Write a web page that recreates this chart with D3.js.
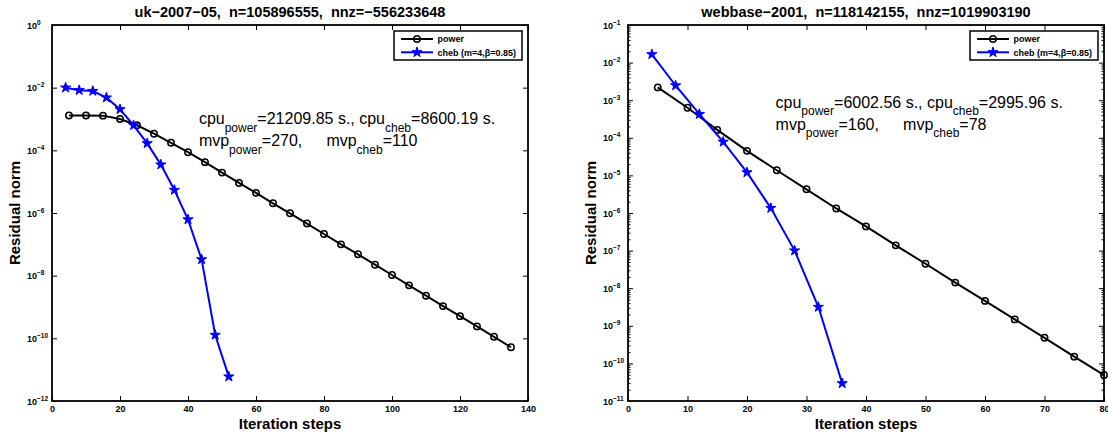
<!DOCTYPE html>
<html>
<head>
<meta charset="utf-8">
<script src="https://cdn.jsdelivr.net/npm/d3@7"></script>
<style>
  body { margin: 0; background: #fff; }
  svg { display: block; font-family: "Liberation Sans", Arial, sans-serif; }
  text { white-space: pre; }
</style>
</head>
<body>
<svg width="1108" height="432"></svg>
<script>
// ---- data ----
const ukPowerIter = [5, 10, 15, 20, 25, 30, 35, 40, 45, 50, 55, 60, 65, 70, 75, 80, 85, 90, 95, 100, 105, 110, 115, 120, 125, 130, 135];
const ukPowerRes = [1.29e-3, 1.29e-3, 1.28e-3, 1.0e-3, 6.3e-4, 3.4e-4, 1.74e-4, 8.7e-5, 4.2e-5, 1.95e-5, 9.1e-6, 4.4e-6, 2.04e-6,
  9.8e-7, 4.6e-7, 2.14e-7, 1.0e-7, 4.8e-8, 2.24e-8, 1.05e-8, 4.9e-9, 2.29e-9, 1.07e-9, 5.1e-10, 2.4e-10, 1.12e-10, 5.2e-11];
const ukChebIter = [4, 8, 12, 16, 20, 24, 28, 32, 36, 40, 44, 48, 52];
const ukChebRes = [1.0e-2, 8.3e-3, 7.8e-3, 4.8e-3, 2.04e-3, 6.3e-4, 1.67e-4, 3.5e-5, 5.4e-6, 6.2e-7, 3.3e-8, 1.28e-10, 6.0e-12];

const webPowerIter = [5, 10, 15, 20, 25, 30, 35, 40, 45, 50, 55, 60, 65, 70, 75, 80];
const webPowerRes = [2.19e-3, 6.3e-4, 1.62e-4, 4.5e-5, 1.37e-5, 4.27e-6, 1.32e-6, 4.4e-7, 1.38e-7, 4.47e-8, 1.41e-8,
  4.6e-9, 1.48e-9, 4.8e-10, 1.51e-10, 4.9e-11];
const webChebIter = [4, 8, 12, 16, 20, 24, 28, 32, 36];
const webChebRes = [1.66e-2, 2.46e-3, 4.27e-4, 7.8e-5, 1.2e-5, 1.35e-6, 1.0e-7, 3.16e-9, 2.95e-11];

const ukXTicks = [0, 20, 40, 60, 80, 100, 120, 140];
const ukYExp = [0, -2, -4, -6, -8, -10, -12];
const webXTicks = [0, 10, 20, 30, 40, 50, 60, 70, 80];
const webYExp = [-1, -2, -3, -4, -5, -6, -7, -8, -9, -10, -11];

const ukCpu = ["21209.85", "8600.19"];
const ukMvp = ["270", "110"];
const webCpu = ["6002.56", "2995.96"];
const webMvp = ["160", "78"];

const seriesNames = ["power", "cheb (m=4,\u03b2=0.85)"];

const svg = d3.select("svg");
const top0 = 25, bottom0 = 401, plotW = 476;
const blue = "#0000ff";

function drawPanel(p) {
  const g = svg.append("g");
  const x = d3.scaleLinear().domain([p.xTicks[0], p.xTicks[p.xTicks.length - 1]]).range([p.left, p.left + plotW]);
  const expMin = d3.min(p.yExp), expMax = d3.max(p.yExp);
  const y = d3.scaleLog().domain([Math.pow(10, expMin), Math.pow(10, expMax)]).range([bottom0, top0]);
  const majors = p.yExp.map(e => Math.pow(10, e));
  const right = p.left + plotW;

  // ticks (inside, mirrored)
  const tickStyle = sel => {
    sel.select(".domain").remove();
    sel.selectAll(".tick line").attr("stroke", "#000").attr("stroke-width", 1);
  };
  g.append("g").attr("transform", `translate(0,${bottom0})`)
    .call(d3.axisBottom(x).tickValues(p.xTicks).tickSizeInner(-5).tickSizeOuter(0).tickPadding(5).tickFormat(d3.format("d")))
    .call(tickStyle)
    .selectAll("text").attr("font-size", 9).attr("font-weight", "bold").attr("fill", "#000")
    .attr("font-family", "Liberation Sans, Arial, sans-serif");
  g.append("g").attr("transform", `translate(0,${top0})`)
    .call(d3.axisTop(x).tickValues(p.xTicks).tickSizeInner(-5).tickSizeOuter(0).tickFormat(() => ""))
    .call(tickStyle);
  g.append("g").attr("transform", `translate(${p.left},0)`)
    .call(d3.axisLeft(y).tickValues(majors).tickSizeInner(-5).tickSizeOuter(0).tickFormat(() => ""))
    .call(tickStyle);
  g.append("g").attr("transform", `translate(${right},0)`)
    .call(d3.axisRight(y).tickValues(majors).tickSizeInner(-5).tickSizeOuter(0).tickFormat(() => ""))
    .call(tickStyle);

  if (p.minor) {
    const minors = [];
    for (let e = expMin; e < expMax; e++) {
      for (let k = 2; k <= 9; k++) minors.push(k * Math.pow(10, e));
    }
    g.append("g").attr("transform", `translate(${p.left},0)`)
      .call(d3.axisLeft(y).tickValues(minors).tickSizeInner(-2.5).tickSizeOuter(0).tickFormat(() => ""))
      .call(tickStyle);
    g.append("g").attr("transform", `translate(${right},0)`)
      .call(d3.axisRight(y).tickValues(minors).tickSizeInner(-2.5).tickSizeOuter(0).tickFormat(() => ""))
      .call(tickStyle);
  }

  // y tick labels 10^e
  const yl = g.append("g").attr("font-size", 9).attr("font-weight", "bold")
    .selectAll("text").data(p.yExp).enter().append("text")
      .attr("x", p.left - 25)
      .attr("y", d => y(Math.pow(10, d)) + 3.5);
  yl.append("tspan").text("10");
  yl.append("tspan").attr("font-size", 6.5).attr("dy", -4)
    .text(d => (d < 0 ? "\u2212" : "") + Math.abs(d));

  // box
  g.append("rect").attr("x", p.left).attr("y", top0).attr("width", plotW).attr("height", bottom0 - top0)
    .attr("fill", "none").attr("stroke", "#000").attr("stroke-width", 1.8);

  // series
  const line = d3.line().x(d => x(d[0])).y(d => y(d[1]));
  const power = d3.zip(p.powerIter, p.powerRes);
  const cheb = d3.zip(p.chebIter, p.chebRes);

  g.append("path").datum(power).attr("d", line).attr("fill", "none").attr("stroke", "#000").attr("stroke-width", 2);
  g.append("g").selectAll("circle").data(power).enter().append("circle")
    .attr("cx", d => x(d[0])).attr("cy", d => y(d[1])).attr("r", 3.2)
    .attr("fill", "none").attr("stroke", "#000").attr("stroke-width", 1.5);

  g.append("path").datum(cheb).attr("d", line).attr("fill", "none").attr("stroke", blue).attr("stroke-width", 2);
  const star = d3.symbol().type(d3.symbolStar).size(32);
  g.append("g").selectAll("path").data(cheb).enter().append("path")
    .attr("d", star).attr("transform", d => `translate(${x(d[0])},${y(d[1])})`)
    .attr("fill", blue).attr("stroke", blue).attr("stroke-width", 1);

  // axis labels and title
  g.append("text").attr("x", (p.left + right) / 2).attr("y", 428.5).attr("text-anchor", "middle")
    .attr("font-size", 15).attr("font-weight", "bold").text("Iteration steps");
  g.append("text").attr("transform", `translate(${p.left - 32},${(top0 + bottom0) / 2}) rotate(-90)`)
    .attr("text-anchor", "middle").attr("font-size", 15).attr("font-weight", "bold").text("Residual norm");
  g.append("text").attr("x", (p.left + right) / 2).attr("y", 17).attr("text-anchor", "middle")
    .attr("font-size", 14.5).attr("font-weight", "bold").text(p.title);

  // legend
  const lx = right - 134, ly = top0 + 6;
  const lg = g.append("g").attr("transform", `translate(${lx},${ly})`);
  lg.append("rect").attr("width", 128).attr("height", 29).attr("fill", "#fff")
    .attr("stroke", "#000").attr("stroke-width", 1.5);
  const rows = [8, 21.3];
  lg.append("line").attr("x1", 7).attr("x2", 39).attr("y1", rows[0]).attr("y2", rows[0]).attr("stroke", "#000").attr("stroke-width", 2);
  lg.append("circle").attr("cx", 23).attr("cy", rows[0]).attr("r", 3.2).attr("fill", "none").attr("stroke", "#000").attr("stroke-width", 1.5);
  lg.append("line").attr("x1", 7).attr("x2", 39).attr("y1", rows[1]).attr("y2", rows[1]).attr("stroke", blue).attr("stroke-width", 2);
  lg.append("path").attr("d", star).attr("transform", `translate(23,${rows[1]})`).attr("fill", blue).attr("stroke", blue);
  lg.selectAll("text.leg").data(seriesNames).enter().append("text")
    .attr("x", 43.4).attr("y", (d, i) => rows[i] + 3.2)
    .attr("font-size", 9).attr("font-weight", "bold").text(d => d);

  // annotation
  const ax = x(p.noteAt[0]), ay = y(p.noteAt[1]);
  const t1 = g.append("text").attr("x", ax).attr("y", ay).attr("font-size", 16);
  t1.append("tspan").text("cpu");
  t1.append("tspan").attr("font-size", 12).attr("dy", 7.5).text("power");
  t1.append("tspan").attr("dy", -7.5).text(`=${p.cpu[0]} s., cpu`);
  t1.append("tspan").attr("font-size", 12).attr("dy", 7.5).text("cheb");
  t1.append("tspan").attr("dy", -7.5).text(`=${p.cpu[1]} s.`);
  const t2 = g.append("text").attr("x", ax).attr("y", ay + 22).attr("font-size", 16);
  t2.append("tspan").text("mvp");
  t2.append("tspan").attr("font-size", 12).attr("dy", 7.5).text("power");
  t2.append("tspan").attr("dy", -7.5).text(`=${p.mvp[0]},`);
  const t3 = g.append("text").attr("x", ax + 127.5).attr("y", ay + 22).attr("font-size", 16);
  t3.append("tspan").text("mvp");
  t3.append("tspan").attr("font-size", 12).attr("dy", 7.5).text("cheb");
  t3.append("tspan").attr("dy", -7.5).text(`=${p.mvp[1]}`);
}

drawPanel({
  left: 52, title: "uk\u22122007\u221205,  n=105896555,  nnz=\u2212556233648",
  xTicks: ukXTicks, yExp: ukYExp, minor: false,
  powerIter: ukPowerIter, powerRes: ukPowerRes, chebIter: ukChebIter, chebRes: ukChebRes,
  noteAt: [43.2, 6.9e-4], cpu: ukCpu, mvp: ukMvp
});
drawPanel({
  left: 628, title: "webbase\u22122001,  n=118142155,  nnz=1019903190",
  xTicks: webXTicks, yExp: webYExp, minor: true,
  powerIter: webPowerIter, powerRes: webPowerRes, chebIter: webChebIter, chebRes: webChebRes,
  noteAt: [24.8, 6.3e-4], cpu: webCpu, mvp: webMvp
});
</script>
</body>
</html>
